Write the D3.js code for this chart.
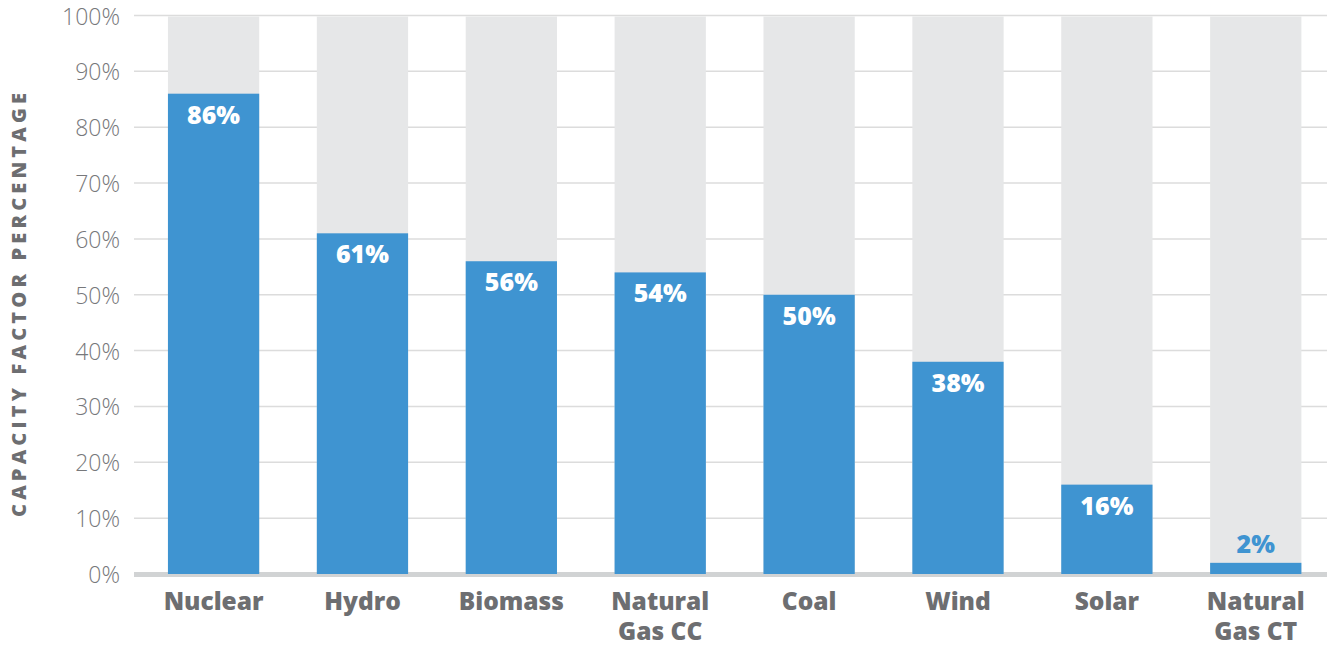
<!DOCTYPE html>
<html><head><meta charset="utf-8">
<script src="https://cdn.jsdelivr.net/npm/d3@7"></script>
<style>body{margin:0;background:#fff;}svg{display:block;}</style>
</head><body>
<svg id="chart" width="1327" height="646"></svg>
<script>
const categories = [["Nuclear"],["Hydro"],["Biomass"],["Natural","Gas CC"],["Coal"],["Wind"],["Solar"],["Natural","Gas CT"]];
const values = [86, 61, 56, 54, 50, 38, 16, 2];
const yTicks = [0,10,20,30,40,50,60,70,80,90,100];
const yTitle = "CAPACITY FACTOR PERCENTAGE";

const svg = d3.select("#chart");
const keys = categories.map(c => c.join(" "));
const x = d3.scaleBand().domain(keys).range([134, 1327]).paddingInner(0.387).paddingOuter(0.2).align(0.57);
const y = d3.scaleLinear().domain([0, 100]).range([574, 15.5]);

const gray = "#6d6e71";
const font = "'Open Sans', sans-serif";
// gridlines
svg.append("g").selectAll("line").data(yTicks.filter(t => t > 0)).join("line")
  .attr("x1", 134).attr("x2", 1327)
  .attr("y1", d => y(d)).attr("y2", d => y(d))
  .attr("stroke", "#dcdcdc").attr("stroke-width", 1.5);

// tick labels
svg.append("g").selectAll("text").data(yTicks).join("text")
  .attr("x", 120).attr("y", d => y(d) + 9)
  .attr("text-anchor", "end")
  .attr("font-family", font).attr("font-weight", 300)
  .attr("font-size", 23).attr("fill", "#77787b")
  .text(d => d + "%");

// background bars
svg.append("g").selectAll("rect").data(keys).join("rect")
  .attr("x", d => x(d)).attr("width", x.bandwidth())
  .attr("y", y(100) + 1).attr("height", y(0) - y(100) - 1)
  .attr("fill", "#e6e7e8");

// baseline
svg.append("line").attr("x1", 134).attr("x2", 1327)
  .attr("y1", y(0) + 0.5).attr("y2", y(0) + 0.5)
  .attr("stroke", "#d1d3d4").attr("stroke-width", 5);

// value bars
svg.append("g").selectAll("rect").data(values).join("rect")
  .attr("x", (d, i) => x(keys[i])).attr("width", x.bandwidth())
  .attr("y", d => y(d)).attr("height", d => y(0) - y(d))
  .attr("fill", "#3f94d1");

// value labels
svg.append("g").selectAll("text").data(values).join("text")
  .attr("x", (d, i) => x(keys[i]) + x.bandwidth() / 2)
  .attr("y", d => d < 10 ? y(d) - 9.5 : y(d) + 30)
  .attr("text-anchor", "middle")
  .attr("font-family", font).attr("font-weight", 800)
  .attr("font-size", 25)
  .attr("fill", d => d < 10 ? "#3f94d1" : "#ffffff")
  .text(d => d + "%");

// category labels
const cat = svg.append("g").selectAll("text").data(categories).join("text")
  .attr("text-anchor", "middle")
  .attr("font-family", font).attr("font-weight", 800)
  .attr("font-size", 24.5).attr("fill", gray);
cat.each(function(c, i) {
  const t = d3.select(this);
  c.forEach((line, j) => {
    t.append("tspan").attr("x", x(keys[i]) + x.bandwidth() / 2)
      .attr("y", 610 + j * 30).text(line);
  });
});

// y-axis title
svg.append("text")
  .attr("transform", "translate(25.5,305) rotate(-90)")
  .attr("text-anchor", "middle")
  .attr("font-family", font).attr("font-weight", 800)
  .attr("font-size", 20)
  .attr("textLength", 424).attr("lengthAdjust", "spacing")
  .attr("fill", gray)
  .text(yTitle);
</script>
</body></html>
